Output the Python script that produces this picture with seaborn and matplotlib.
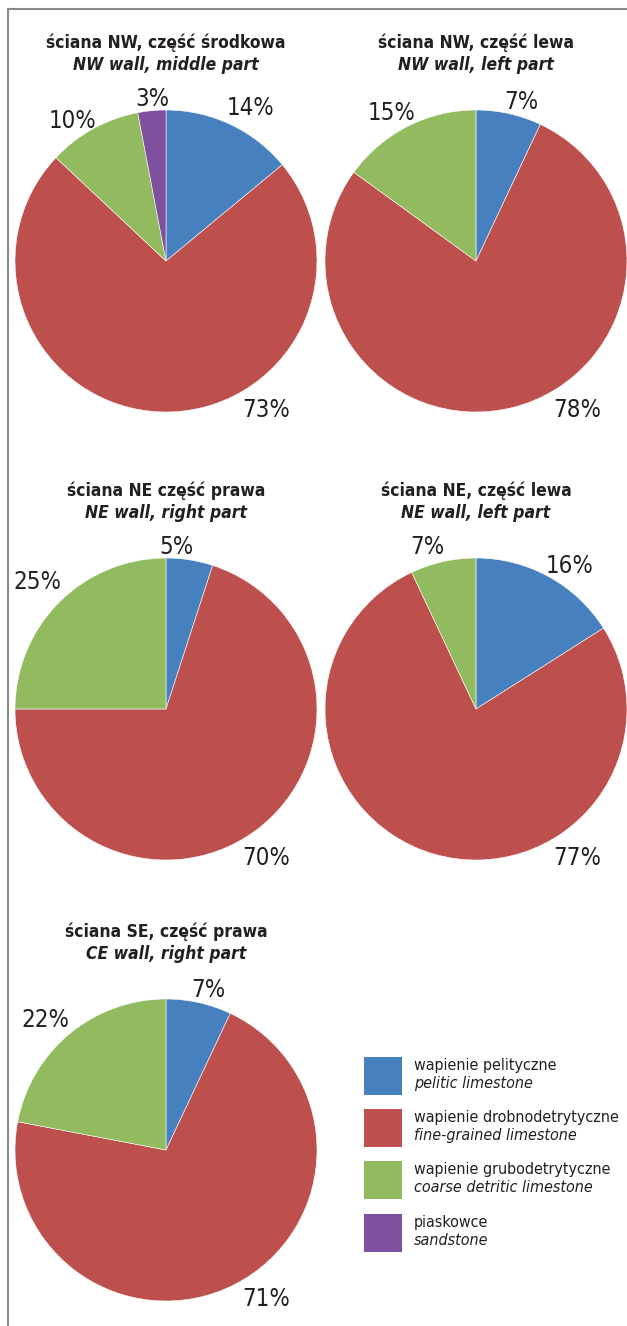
import matplotlib
matplotlib.use("Agg")
import matplotlib.pyplot as plt
from matplotlib.patches import Rectangle
from matplotlib.lines import Line2D
from matplotlib import font_manager as fm
import seaborn as sns

# ---------------- data ----------------
categories_pl = ["wapienie pelityczne", "wapienie drobnodetrytyczne",
                 "wapienie grubodetrytyczne", "piaskowce"]
categories_en = ["pelitic limestone", "fine-grained limestone",
                 "coarse detritic limestone", "sandstone"]

titles_pl = ["ściana NW, część środkowa", "ściana NW, część lewa",
             "ściana NE część prawa", "ściana NE, część lewa",
             "ściana SE, część prawa"]
titles_en = ["NW wall, middle part", "NW wall, left part",
             "NE wall, right part", "NE wall, left part",
             "CE wall, right part"]

nw_middle = [14, 73, 10, 3]
nw_left = [7, 78, 15, 0]
ne_right = [5, 70, 25, 0]
ne_left = [16, 77, 7, 0]
se_right = [7, 71, 22, 0]
pie_values = [nw_middle, nw_left, ne_right, ne_left, se_right]

# ---------------- styles / layout ----------------
colors = ["#4780BF", "#BD4F4C", "#92BA5F", "#7E509D"]
text_color = "#231F20"

sns.set_theme(style="white")

# choose a condensed sans font if available
entries = fm.fontManager.ttflist
names = {f.name for f in entries}
if "Liberation Sans Narrow" in names:
    FAM, STRETCH, SC = "Liberation Sans Narrow", "normal", 1.0
elif any(f.name == "DejaVu Sans" and str(f.stretch) in ("condensed", "semi-condensed")
         for f in entries):
    FAM, STRETCH, SC = "DejaVu Sans", "condensed", 0.86
else:
    FAM, STRETCH, SC = "Liberation Sans", "normal", 0.86
plt.rcParams["font.family"] = [FAM, "DejaVu Sans"]
plt.rcParams["font.stretch"] = STRETCH

W, H = 627, 1326
R = 151
centers = [(166, 261), (476, 261), (166, 709), (476, 709), (166, 1150)]

# label offsets in units of radius (x right, y up), for non-zero wedges in order
label_offsets = [
    [(0.56, 1.01), (0.66, -0.99), (-0.62, 0.93), (-0.09, 1.07)],
    [(0.30, 1.05), (0.67, -0.99), (-0.56, 0.98)],
    [(0.07, 1.07), (0.66, -0.99), (-0.85, 0.84)],
    [(0.62, 0.95), (0.67, -0.99), (-0.32, 1.07)],
    [(0.28, 1.06), (0.66, -0.99), (-0.80, 0.86)],
]

fig = plt.figure(figsize=(W / 100, H / 100), dpi=100)
fig.patch.set_facecolor("white")

for i, (vals, (cx, cy)) in enumerate(zip(pie_values, centers)):
    ax = fig.add_axes([(cx - R) / W, (H - cy - R) / H, 2 * R / W, 2 * R / H])
    nz = [(v, c) for v, c in zip(vals, colors) if v > 0]
    v_nz = [v for v, _ in nz]
    c_nz = [c for _, c in nz]
    ax.pie(v_nz, colors=c_nz, startangle=90, counterclock=False, radius=1,
           wedgeprops=dict(edgecolor="white", linewidth=0.4))
    ax.set_xlim(-1, 1)
    ax.set_ylim(-1, 1)
    ax.set_aspect("equal")
    ax.axis("off")
    for v, (dx, dy) in zip(v_nz, label_offsets[i]):
        ax.text(dx, dy, f"{v}%", ha="center", va="center", fontsize=20 * (SC if SC < 1 else 1),
                color=text_color, clip_on=False, fontstretch=STRETCH)
    ax.text(0, 1.445, titles_pl[i], ha="center", va="center", fontsize=14.5 * SC,
            fontweight="bold", color=text_color, clip_on=False, fontstretch=STRETCH)
    ax.text(0, 1.30, titles_en[i], ha="center", va="center", fontsize=14.5 * SC,
            fontweight="bold", fontstyle="italic", color=text_color, clip_on=False,
            fontstretch=STRETCH)

# overlay for frame (pixel coordinates)
ov = fig.add_axes([0, 0, 1, 1], zorder=-1)
ov.set_xlim(0, W)
ov.set_ylim(H, 0)
ov.axis("off")
ov.add_line(Line2D([8, W], [9, 9], color="#8A8A8A", linewidth=1.5))
ov.add_line(Line2D([8, 8], [9, H], color="#8A8A8A", linewidth=1.5))

# legend
leg = fig.add_axes([0, 0, 1, 1], zorder=5)
leg.set_xlim(0, W)
leg.set_ylim(H, 0)
leg.axis("off")
row_tops = [1057, 1109, 1161, 1214]
for top, c, pl, en in zip(row_tops, colors, categories_pl, categories_en):
    leg.add_patch(Rectangle((364, top), 38, 38, facecolor=c, edgecolor="none"))
    leg.text(414, top + 8.5, pl, ha="left", va="center", fontsize=13.4 * SC,
             color=text_color, fontstretch=STRETCH)
    leg.text(414, top + 26.5, en, ha="left", va="center", fontsize=13.4 * SC,
             fontstyle="italic", color=text_color, fontstretch=STRETCH)

fig.savefig("out.png", dpi=100, facecolor="white")
